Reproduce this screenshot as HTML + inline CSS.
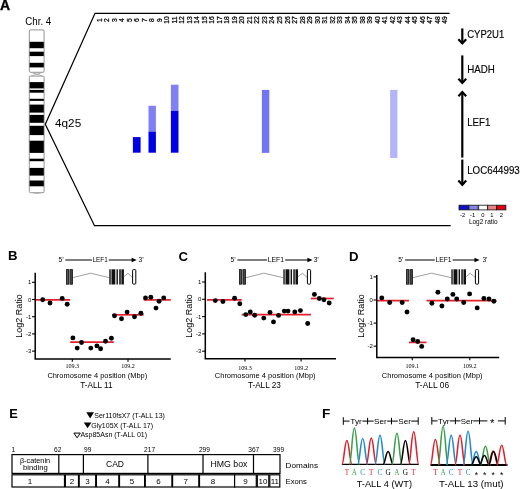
<!DOCTYPE html>
<html><head><meta charset="utf-8"><style>
html,body{margin:0;padding:0;background:#fff;width:520px;height:489px;overflow:hidden}
svg{display:block;will-change:transform}
text{font-family:"Liberation Sans", sans-serif;fill:#000}
</style></head><body>
<svg width="520" height="489" viewBox="0 0 520 489">
<text x="0.10" y="10.00" font-size="14" font-weight="bold" stroke="#000" stroke-width="0.35">A</text>
<text x="25.30" y="24.80" font-size="10.6" textLength="25.90" lengthAdjust="spacingAndGlyphs">Chr. 4</text>
<rect x="29.3" y="29.9" width="14.8" height="42.4" rx="1.1" fill="#fff" stroke="#888" stroke-width="0.9"/>
<rect x="29.3" y="76.1" width="14.8" height="116.6" rx="1.1" fill="#fff" stroke="#888" stroke-width="0.9"/>
<path d="M31.2,72.4 L42.4,76.0 M42.4,72.4 L31.2,76.0" fill="none" stroke="#aaa" stroke-width="1"/>
<path d="M33,193 Q36.7,194 40.6,193" fill="none" stroke="#aaa" stroke-width="0.8"/>
<rect x="29.6" y="41.8" width="14.2" height="6.4" fill="#000"/>
<rect x="29.6" y="51.7" width="14.2" height="4.4" fill="#000"/>
<rect x="29.6" y="62.8" width="14.2" height="4.6" fill="#000"/>
<rect x="29.6" y="82.1" width="14.2" height="6.3" fill="#000"/>
<rect x="29.6" y="89.9" width="14.2" height="2.8" fill="#000"/>
<rect x="29.6" y="98.8" width="14.2" height="2.1" fill="#000"/>
<rect x="29.6" y="104.6" width="14.2" height="8.0" fill="#000"/>
<rect x="29.6" y="114.9" width="14.2" height="7.9" fill="#000"/>
<rect x="29.6" y="125.8" width="14.2" height="9.3" fill="#000"/>
<rect x="29.6" y="140.7" width="14.2" height="12.2" fill="#000"/>
<rect x="29.6" y="158.7" width="14.2" height="2.5" fill="#000"/>
<rect x="29.6" y="167.9" width="14.2" height="7.7" fill="#000"/>
<rect x="29.6" y="180.5" width="14.2" height="5.8" fill="#000"/>
<path d="M449.6,13.3 L95,13.3 L45.3,124.3 L94.5,225.7 L450.7,225.7" fill="none" stroke="#000" stroke-width="1.25"/>
<text x="55.00" y="126.80" font-size="10.8" textLength="26.20" lengthAdjust="spacingAndGlyphs">4q25</text>
<text transform="translate(101.50,20.1) rotate(-90)" text-anchor="middle" font-size="6.7" stroke="#000" stroke-width="0.25">1</text>
<text transform="translate(109.02,20.1) rotate(-90)" text-anchor="middle" font-size="6.7" stroke="#000" stroke-width="0.25">2</text>
<text transform="translate(116.54,20.1) rotate(-90)" text-anchor="middle" font-size="6.7" stroke="#000" stroke-width="0.25">3</text>
<text transform="translate(124.06,20.1) rotate(-90)" text-anchor="middle" font-size="6.7" stroke="#000" stroke-width="0.25">4</text>
<text transform="translate(131.58,20.1) rotate(-90)" text-anchor="middle" font-size="6.7" stroke="#000" stroke-width="0.25">5</text>
<text transform="translate(139.10,20.1) rotate(-90)" text-anchor="middle" font-size="6.7" stroke="#000" stroke-width="0.25">6</text>
<text transform="translate(146.62,20.1) rotate(-90)" text-anchor="middle" font-size="6.7" stroke="#000" stroke-width="0.25">7</text>
<text transform="translate(154.14,20.1) rotate(-90)" text-anchor="middle" font-size="6.7" stroke="#000" stroke-width="0.25">8</text>
<text transform="translate(161.66,20.1) rotate(-90)" text-anchor="middle" font-size="6.7" stroke="#000" stroke-width="0.25">9</text>
<text transform="translate(169.18,20.1) rotate(-90)" text-anchor="middle" font-size="6.7" stroke="#000" stroke-width="0.25">10</text>
<text transform="translate(176.70,20.1) rotate(-90)" text-anchor="middle" font-size="6.7" stroke="#000" stroke-width="0.25">11</text>
<text transform="translate(184.22,20.1) rotate(-90)" text-anchor="middle" font-size="6.7" stroke="#000" stroke-width="0.25">12</text>
<text transform="translate(191.74,20.1) rotate(-90)" text-anchor="middle" font-size="6.7" stroke="#000" stroke-width="0.25">13</text>
<text transform="translate(199.26,20.1) rotate(-90)" text-anchor="middle" font-size="6.7" stroke="#000" stroke-width="0.25">14</text>
<text transform="translate(206.78,20.1) rotate(-90)" text-anchor="middle" font-size="6.7" stroke="#000" stroke-width="0.25">15</text>
<text transform="translate(214.30,20.1) rotate(-90)" text-anchor="middle" font-size="6.7" stroke="#000" stroke-width="0.25">16</text>
<text transform="translate(221.82,20.1) rotate(-90)" text-anchor="middle" font-size="6.7" stroke="#000" stroke-width="0.25">17</text>
<text transform="translate(229.34,20.1) rotate(-90)" text-anchor="middle" font-size="6.7" stroke="#000" stroke-width="0.25">18</text>
<text transform="translate(236.86,20.1) rotate(-90)" text-anchor="middle" font-size="6.7" stroke="#000" stroke-width="0.25">19</text>
<text transform="translate(244.38,20.1) rotate(-90)" text-anchor="middle" font-size="6.7" stroke="#000" stroke-width="0.25">20</text>
<text transform="translate(251.90,20.1) rotate(-90)" text-anchor="middle" font-size="6.7" stroke="#000" stroke-width="0.25">21</text>
<text transform="translate(259.42,20.1) rotate(-90)" text-anchor="middle" font-size="6.7" stroke="#000" stroke-width="0.25">22</text>
<text transform="translate(266.94,20.1) rotate(-90)" text-anchor="middle" font-size="6.7" stroke="#000" stroke-width="0.25">23</text>
<text transform="translate(274.46,20.1) rotate(-90)" text-anchor="middle" font-size="6.7" stroke="#000" stroke-width="0.25">24</text>
<text transform="translate(281.98,20.1) rotate(-90)" text-anchor="middle" font-size="6.7" stroke="#000" stroke-width="0.25">25</text>
<text transform="translate(289.50,20.1) rotate(-90)" text-anchor="middle" font-size="6.7" stroke="#000" stroke-width="0.25">26</text>
<text transform="translate(297.02,20.1) rotate(-90)" text-anchor="middle" font-size="6.7" stroke="#000" stroke-width="0.25">27</text>
<text transform="translate(304.54,20.1) rotate(-90)" text-anchor="middle" font-size="6.7" stroke="#000" stroke-width="0.25">28</text>
<text transform="translate(312.06,20.1) rotate(-90)" text-anchor="middle" font-size="6.7" stroke="#000" stroke-width="0.25">29</text>
<text transform="translate(319.58,20.1) rotate(-90)" text-anchor="middle" font-size="6.7" stroke="#000" stroke-width="0.25">30</text>
<text transform="translate(327.10,20.1) rotate(-90)" text-anchor="middle" font-size="6.7" stroke="#000" stroke-width="0.25">31</text>
<text transform="translate(334.62,20.1) rotate(-90)" text-anchor="middle" font-size="6.7" stroke="#000" stroke-width="0.25">32</text>
<text transform="translate(342.14,20.1) rotate(-90)" text-anchor="middle" font-size="6.7" stroke="#000" stroke-width="0.25">33</text>
<text transform="translate(349.66,20.1) rotate(-90)" text-anchor="middle" font-size="6.7" stroke="#000" stroke-width="0.25">34</text>
<text transform="translate(357.18,20.1) rotate(-90)" text-anchor="middle" font-size="6.7" stroke="#000" stroke-width="0.25">35</text>
<text transform="translate(364.70,20.1) rotate(-90)" text-anchor="middle" font-size="6.7" stroke="#000" stroke-width="0.25">38</text>
<text transform="translate(372.22,20.1) rotate(-90)" text-anchor="middle" font-size="6.7" stroke="#000" stroke-width="0.25">39</text>
<text transform="translate(379.74,20.1) rotate(-90)" text-anchor="middle" font-size="6.7" stroke="#000" stroke-width="0.25">40</text>
<text transform="translate(387.26,20.1) rotate(-90)" text-anchor="middle" font-size="6.7" stroke="#000" stroke-width="0.25">41</text>
<text transform="translate(394.78,20.1) rotate(-90)" text-anchor="middle" font-size="6.7" stroke="#000" stroke-width="0.25">42</text>
<text transform="translate(402.30,20.1) rotate(-90)" text-anchor="middle" font-size="6.7" stroke="#000" stroke-width="0.25">43</text>
<text transform="translate(409.82,20.1) rotate(-90)" text-anchor="middle" font-size="6.7" stroke="#000" stroke-width="0.25">44</text>
<text transform="translate(417.34,20.1) rotate(-90)" text-anchor="middle" font-size="6.7" stroke="#000" stroke-width="0.25">45</text>
<text transform="translate(424.86,20.1) rotate(-90)" text-anchor="middle" font-size="6.7" stroke="#000" stroke-width="0.25">46</text>
<text transform="translate(432.38,20.1) rotate(-90)" text-anchor="middle" font-size="6.7" stroke="#000" stroke-width="0.25">47</text>
<text transform="translate(439.90,20.1) rotate(-90)" text-anchor="middle" font-size="6.7" stroke="#000" stroke-width="0.25">48</text>
<text transform="translate(447.42,20.1) rotate(-90)" text-anchor="middle" font-size="6.7" stroke="#000" stroke-width="0.25">49</text>
<rect x="132.9" y="137.1" width="7.7" height="15.6" fill="#0000e6"/>
<rect x="148.5" y="105.8" width="7.4" height="25.8" fill="#8080f4"/>
<rect x="148.5" y="131.6" width="7.4" height="21.1" fill="#0000e6"/>
<rect x="170.9" y="84.7" width="7.6" height="26.1" fill="#8080f4"/>
<rect x="170.9" y="110.8" width="7.6" height="41.9" fill="#0000e6"/>
<rect x="261.9" y="89.9" width="7.4" height="63" fill="#7474f2"/>
<rect x="390.1" y="89.9" width="7.3" height="68.1" fill="#b4b4f8"/>
<path d="M462.3,28.4 L462.3,43.4" stroke="#000" stroke-width="2.2"/>
<path d="M458.40000000000003,39.199999999999996 L462.3,43.4 L466.2,39.199999999999996" fill="none" stroke="#000" stroke-width="2.2"/>
<path d="M462.3,55.4 L462.3,83" stroke="#000" stroke-width="2.2"/>
<path d="M458.40000000000003,78.8 L462.3,83 L466.2,78.8" fill="none" stroke="#000" stroke-width="2.2"/>
<path d="M462.3,92.1 L462.3,157.6" stroke="#000" stroke-width="2.2"/>
<path d="M458.40000000000003,96.3 L462.3,92.1 L466.2,96.3" fill="none" stroke="#000" stroke-width="2.2"/>
<path d="M462.3,159.6 L462.3,184.8" stroke="#000" stroke-width="2.2"/>
<path d="M458.40000000000003,180.60000000000002 L462.3,184.8 L466.2,180.60000000000002" fill="none" stroke="#000" stroke-width="2.2"/>
<text x="467.20" y="37.90" font-size="10.1" textLength="37.10" lengthAdjust="spacingAndGlyphs" stroke="#000" stroke-width="0.15">CYP2U1</text>
<text x="467.30" y="73.40" font-size="10.1" textLength="27.60" lengthAdjust="spacingAndGlyphs" stroke="#000" stroke-width="0.15">HADH</text>
<text x="467.20" y="126.00" font-size="10.1" textLength="23.10" lengthAdjust="spacingAndGlyphs" stroke="#000" stroke-width="0.15">LEF1</text>
<text x="467.20" y="173.70" font-size="10.1" textLength="52.60" lengthAdjust="spacingAndGlyphs" stroke="#000" stroke-width="0.15">LOC644993</text>
<rect x="459.0" y="205.2" width="9.40" height="4.7" fill="#1010c8" stroke="#111" stroke-width="0.8"/>
<rect x="468.9" y="205.2" width="9.30" height="4.7" fill="#8484e6" stroke="#111" stroke-width="0.8"/>
<rect x="478.7" y="205.2" width="8.70" height="4.7" fill="#ffffff" stroke="#111" stroke-width="0.8"/>
<rect x="487.7" y="205.2" width="8.70" height="4.7" fill="#e48484" stroke="#111" stroke-width="0.8"/>
<rect x="496.7" y="205.2" width="9.20" height="4.7" fill="#e00010" stroke="#111" stroke-width="0.8"/>
<text x="462.60" y="216.80" font-size="5.8" text-anchor="middle">-2</text>
<text x="472.60" y="216.80" font-size="5.8" text-anchor="middle">-1</text>
<text x="482.75" y="216.80" font-size="5.8" text-anchor="middle">0</text>
<text x="491.90" y="216.80" font-size="5.8" text-anchor="middle">1</text>
<text x="501.25" y="216.80" font-size="5.8" text-anchor="middle">2</text>
<text x="468.90" y="224.30" font-size="6.3" textLength="28.70" lengthAdjust="spacingAndGlyphs">Log2 ratio</text>
<text x="8.10" y="260.30" font-size="13.2" font-weight="bold">B</text>
<text x="58.60" y="262.30" font-size="6.6">5’</text>
<path d="M65.40,260 L91.90,260 M108.70,260 L132.70,260" stroke="#000" stroke-width="1.2"/>
<path d="M131.60,257.7 L136.70,260 L131.60,262.3 Z" fill="#000"/>
<text x="92.50" y="262.40" font-size="6.6" textLength="15.20" lengthAdjust="spacingAndGlyphs">LEF1</text>
<text x="138.60" y="262.30" font-size="6.6">3’</text>
<path d="M73.00,277.6 L90.60,273.2 L109.00,277.6 M123.90,276.8 L127.90,273.3 L132.10,277.2" fill="none" stroke="#777" stroke-width="0.7"/>
<rect x="66.40" y="269.6" width="2.2" height="14.6" fill="#555" stroke="#111" stroke-width="0.8"/>
<rect x="69.90" y="269.6" width="2.6" height="14.6" fill="#444" stroke="#111" stroke-width="0.8"/>
<rect x="109.00" y="269.3" width="2.30" height="15.2" fill="#555"/>
<rect x="111.60" y="269.3" width="3.70" height="15.2" fill="#111"/>
<rect x="116.50" y="269.3" width="1.40" height="15.2" fill="#111"/>
<rect x="119.00" y="269.3" width="2.20" height="15.2" fill="#444"/>
<rect x="121.50" y="269.3" width="2.40" height="15.2" fill="#111"/>
<rect x="132.60" y="269.6" width="3.20" height="14.5" rx="0.8" fill="#fff" stroke="#000" stroke-width="1"/>
<path d="M35.2,299.9 L70.2,299.9" stroke="#e6202a" stroke-width="1.7"/>
<path d="M70.2,342.1 L113.8,342.1" stroke="#e6202a" stroke-width="1.7"/>
<path d="M112.3,314.8 L143.7,314.8" stroke="#e6202a" stroke-width="1.7"/>
<path d="M143.7,299.9 L170.8,299.9" stroke="#e6202a" stroke-width="1.7"/>
<circle cx="42.7" cy="299.8" r="2.45" fill="#000"/>
<circle cx="50" cy="303" r="2.45" fill="#000"/>
<circle cx="62.2" cy="298.4" r="2.45" fill="#000"/>
<circle cx="67.2" cy="304.3" r="2.45" fill="#000"/>
<circle cx="72.9" cy="337.9" r="2.45" fill="#000"/>
<circle cx="77.2" cy="348.1" r="2.45" fill="#000"/>
<circle cx="81.5" cy="342.5" r="2.45" fill="#000"/>
<circle cx="90.8" cy="348.1" r="2.45" fill="#000"/>
<circle cx="96.9" cy="345.9" r="2.45" fill="#000"/>
<circle cx="100.6" cy="348.7" r="2.45" fill="#000"/>
<circle cx="105.5" cy="341.3" r="2.45" fill="#000"/>
<circle cx="111.4" cy="338.2" r="2.45" fill="#000"/>
<circle cx="114.5" cy="315.8" r="2.45" fill="#000"/>
<circle cx="121.5" cy="318.8" r="2.45" fill="#000"/>
<circle cx="127.1" cy="312.1" r="2.45" fill="#000"/>
<circle cx="134.5" cy="316.7" r="2.45" fill="#000"/>
<circle cx="140.9" cy="313.3" r="2.45" fill="#000"/>
<circle cx="145.5" cy="297.9" r="2.45" fill="#000"/>
<circle cx="150.8" cy="297.3" r="2.45" fill="#000"/>
<circle cx="156" cy="308.1" r="2.45" fill="#000"/>
<circle cx="159.1" cy="301.3" r="2.45" fill="#000"/>
<circle cx="163.7" cy="297.9" r="2.45" fill="#000"/>
<path d="M35.2,272.8 L35.2,358.9 L170.8,358.9" fill="none" stroke="#000" stroke-width="1.5"/>
<path d="M32.0,282.3 L35.2,282.3" stroke="#000" stroke-width="1.1"/>
<text x="31.30" y="284.40" font-size="6" text-anchor="end">1</text>
<path d="M32.0,299.5 L35.2,299.5" stroke="#000" stroke-width="1.1"/>
<text x="31.30" y="301.60" font-size="6" text-anchor="end">0</text>
<path d="M32.0,316.7 L35.2,316.7" stroke="#000" stroke-width="1.1"/>
<text x="31.30" y="318.80" font-size="6" text-anchor="end">-1</text>
<path d="M32.0,333.9 L35.2,333.9" stroke="#000" stroke-width="1.1"/>
<text x="31.30" y="336.00" font-size="6" text-anchor="end">-2</text>
<path d="M32.0,351.1 L35.2,351.1" stroke="#000" stroke-width="1.1"/>
<text x="31.30" y="353.20" font-size="6" text-anchor="end">-3</text>
<path d="M72.3,358.9 L72.3,361.7" stroke="#000" stroke-width="1.1"/>
<text x="72.30" y="368.30" font-size="6.1" text-anchor="middle" style='font-family:"Liberation Serif", serif'>109.3</text>
<path d="M128.0,358.9 L128.0,361.7" stroke="#000" stroke-width="1.1"/>
<text x="128.00" y="368.30" font-size="6.1" text-anchor="middle" style='font-family:"Liberation Serif", serif'>109.2</text>
<text transform="translate(22.00,316) rotate(-90)" text-anchor="middle" font-size="9">Log2 Ratio</text>
<text x="47.40" y="377.80" font-size="6.9" textLength="99.80" lengthAdjust="spacingAndGlyphs">Chromosome 4 position (Mbp)</text>
<text x="80.20" y="388.40" font-size="8.8" textLength="32.30" lengthAdjust="spacingAndGlyphs">T-ALL 11</text>
<text x="178.50" y="260.80" font-size="13.2" font-weight="bold">C</text>
<text x="230.60" y="262.30" font-size="6.6">5’</text>
<path d="M237.40,260 L267.10,260 M285.10,260 L308.50,260" stroke="#000" stroke-width="1.2"/>
<path d="M307.40,257.7 L312.50,260 L307.40,262.3 Z" fill="#000"/>
<text x="267.70" y="262.40" font-size="6.6" textLength="16.40" lengthAdjust="spacingAndGlyphs">LEF1</text>
<text x="313.70" y="262.30" font-size="6.6">3’</text>
<path d="M246.00,277.6 L263.80,273.2 L283.10,277.6 M298.00,276.8 L302.50,273.3 L306.90,277.2" fill="none" stroke="#777" stroke-width="0.7"/>
<rect x="239.40" y="269.6" width="2.2" height="14.6" fill="#555" stroke="#111" stroke-width="0.8"/>
<rect x="242.90" y="269.6" width="2.6" height="14.6" fill="#444" stroke="#111" stroke-width="0.8"/>
<rect x="283.10" y="269.3" width="2.30" height="15.2" fill="#555"/>
<rect x="285.70" y="269.3" width="3.70" height="15.2" fill="#111"/>
<rect x="290.60" y="269.3" width="1.40" height="15.2" fill="#111"/>
<rect x="293.10" y="269.3" width="2.20" height="15.2" fill="#444"/>
<rect x="295.60" y="269.3" width="2.40" height="15.2" fill="#111"/>
<rect x="307.40" y="269.6" width="3.20" height="14.5" rx="0.8" fill="#fff" stroke="#000" stroke-width="1"/>
<path d="M207,299.8 L241.7,299.8" stroke="#e6202a" stroke-width="1.7"/>
<path d="M241.7,314.6 L310.9,314.6" stroke="#e6202a" stroke-width="1.7"/>
<path d="M310.9,298.5 L333.8,298.5" stroke="#e6202a" stroke-width="1.7"/>
<circle cx="215.3" cy="300.6" r="2.45" fill="#000"/>
<circle cx="222.9" cy="301.5" r="2.45" fill="#000"/>
<circle cx="234.6" cy="298.2" r="2.45" fill="#000"/>
<circle cx="239.8" cy="303.7" r="2.45" fill="#000"/>
<circle cx="245.8" cy="314.6" r="2.45" fill="#000"/>
<circle cx="250.3" cy="311.9" r="2.45" fill="#000"/>
<circle cx="254.7" cy="315.2" r="2.45" fill="#000"/>
<circle cx="263.8" cy="318.1" r="2.45" fill="#000"/>
<circle cx="270" cy="312.5" r="2.45" fill="#000"/>
<circle cx="273.5" cy="321.9" r="2.45" fill="#000"/>
<circle cx="278.6" cy="315.4" r="2.45" fill="#000"/>
<circle cx="284.3" cy="311.1" r="2.45" fill="#000"/>
<circle cx="288" cy="311.1" r="2.45" fill="#000"/>
<circle cx="294.8" cy="311.9" r="2.45" fill="#000"/>
<circle cx="300.4" cy="310.6" r="2.45" fill="#000"/>
<circle cx="307.7" cy="323.5" r="2.45" fill="#000"/>
<circle cx="314.4" cy="294.4" r="2.45" fill="#000"/>
<circle cx="319.3" cy="298.5" r="2.45" fill="#000"/>
<circle cx="323.9" cy="299.8" r="2.45" fill="#000"/>
<circle cx="329.2" cy="303" r="2.45" fill="#000"/>
<path d="M205.3,272.2 L205.3,358.8 L336,358.8" fill="none" stroke="#000" stroke-width="1.5"/>
<path d="M202.10000000000002,282.0 L205.3,282.0" stroke="#000" stroke-width="1.1"/>
<text x="201.40" y="284.10" font-size="6" text-anchor="end">1</text>
<path d="M202.10000000000002,299.3 L205.3,299.3" stroke="#000" stroke-width="1.1"/>
<text x="201.40" y="301.40" font-size="6" text-anchor="end">0</text>
<path d="M202.10000000000002,316.6 L205.3,316.6" stroke="#000" stroke-width="1.1"/>
<text x="201.40" y="318.70" font-size="6" text-anchor="end">-1</text>
<path d="M202.10000000000002,333.90000000000003 L205.3,333.90000000000003" stroke="#000" stroke-width="1.1"/>
<text x="201.40" y="336.00" font-size="6" text-anchor="end">-2</text>
<path d="M202.10000000000002,351.20000000000005 L205.3,351.20000000000005" stroke="#000" stroke-width="1.1"/>
<text x="201.40" y="353.30" font-size="6" text-anchor="end">-3</text>
<path d="M245.0,358.8 L245.0,361.6" stroke="#000" stroke-width="1.1"/>
<text x="245.00" y="369.60" font-size="6.1" text-anchor="middle" style='font-family:"Liberation Serif", serif'>109.3</text>
<path d="M301.1,358.8 L301.1,361.6" stroke="#000" stroke-width="1.1"/>
<text x="301.10" y="369.60" font-size="6.1" text-anchor="middle" style='font-family:"Liberation Serif", serif'>109.2</text>
<text transform="translate(192.10,316) rotate(-90)" text-anchor="middle" font-size="9">Log2 Ratio</text>
<text x="214.80" y="377.80" font-size="6.9" textLength="100.80" lengthAdjust="spacingAndGlyphs">Chromosome 4 position (Mbp)</text>
<text x="247.90" y="388.40" font-size="8.8" textLength="32.90" lengthAdjust="spacingAndGlyphs">T-ALL 23</text>
<text x="349.00" y="260.80" font-size="13.2" font-weight="bold">D</text>
<text x="398.30" y="262.30" font-size="6.6">5’</text>
<path d="M405.10,260 L434.80,260 M452.60,260 L475.60,260" stroke="#000" stroke-width="1.2"/>
<path d="M474.50,257.7 L479.60,260 L474.50,262.3 Z" fill="#000"/>
<text x="435.40" y="262.40" font-size="6.6" textLength="16.20" lengthAdjust="spacingAndGlyphs">LEF1</text>
<text x="482.40" y="262.30" font-size="6.6">3’</text>
<path d="M413.00,277.6 L431.50,273.2 L451.10,277.6 M466.00,276.8 L470.00,273.3 L474.90,277.2" fill="none" stroke="#777" stroke-width="0.7"/>
<rect x="406.40" y="269.6" width="2.2" height="14.6" fill="#555" stroke="#111" stroke-width="0.8"/>
<rect x="409.90" y="269.6" width="2.6" height="14.6" fill="#444" stroke="#111" stroke-width="0.8"/>
<rect x="451.10" y="269.3" width="2.30" height="15.2" fill="#555"/>
<rect x="453.70" y="269.3" width="3.70" height="15.2" fill="#111"/>
<rect x="458.60" y="269.3" width="1.40" height="15.2" fill="#111"/>
<rect x="461.10" y="269.3" width="2.20" height="15.2" fill="#444"/>
<rect x="463.60" y="269.3" width="2.40" height="15.2" fill="#111"/>
<rect x="475.40" y="269.6" width="3.20" height="14.5" rx="0.8" fill="#fff" stroke="#000" stroke-width="1"/>
<path d="M376.8,300.6 L409,300.6" stroke="#e6202a" stroke-width="1.7"/>
<path d="M409,342.4 L426.5,342.4" stroke="#e6202a" stroke-width="1.7"/>
<path d="M426.5,300.6 L496.5,300.6" stroke="#e6202a" stroke-width="1.7"/>
<circle cx="381.8" cy="297.9" r="2.45" fill="#000"/>
<circle cx="389.7" cy="302.5" r="2.45" fill="#000"/>
<circle cx="402.2" cy="302.5" r="2.45" fill="#000"/>
<circle cx="407" cy="312" r="2.45" fill="#000"/>
<circle cx="413.1" cy="339.7" r="2.45" fill="#000"/>
<circle cx="417.7" cy="341.5" r="2.45" fill="#000"/>
<circle cx="421.7" cy="346.4" r="2.45" fill="#000"/>
<circle cx="431.9" cy="303.3" r="2.45" fill="#000"/>
<circle cx="437.9" cy="292.3" r="2.45" fill="#000"/>
<circle cx="441.9" cy="306" r="2.45" fill="#000"/>
<circle cx="447.3" cy="299" r="2.45" fill="#000"/>
<circle cx="452.9" cy="294.4" r="2.45" fill="#000"/>
<circle cx="456.7" cy="299" r="2.45" fill="#000"/>
<circle cx="463.7" cy="302.5" r="2.45" fill="#000"/>
<circle cx="469.6" cy="293.9" r="2.45" fill="#000"/>
<circle cx="477.2" cy="307.9" r="2.45" fill="#000"/>
<circle cx="483.9" cy="298.5" r="2.45" fill="#000"/>
<circle cx="489" cy="299" r="2.45" fill="#000"/>
<circle cx="493.9" cy="301.2" r="2.45" fill="#000"/>
<path d="M376.8,275 L376.8,357.4 L499.2,357.4" fill="none" stroke="#000" stroke-width="1.5"/>
<path d="M373.6,276.9 L376.8,276.9" stroke="#000" stroke-width="1.1"/>
<text x="372.90" y="279.00" font-size="6" text-anchor="end">1</text>
<path d="M373.6,300.0 L376.8,300.0" stroke="#000" stroke-width="1.1"/>
<text x="372.90" y="302.10" font-size="6" text-anchor="end">0</text>
<path d="M373.6,323.1 L376.8,323.1" stroke="#000" stroke-width="1.1"/>
<text x="372.90" y="325.20" font-size="6" text-anchor="end">-1</text>
<path d="M373.6,346.2 L376.8,346.2" stroke="#000" stroke-width="1.1"/>
<text x="372.90" y="348.30" font-size="6" text-anchor="end">-2</text>
<path d="M412.3,357.4 L412.3,360.2" stroke="#000" stroke-width="1.1"/>
<text x="412.30" y="368.00" font-size="6.1" text-anchor="middle" style='font-family:"Liberation Serif", serif'>109.1</text>
<path d="M469.8,357.4 L469.8,360.2" stroke="#000" stroke-width="1.1"/>
<text x="469.80" y="368.00" font-size="6.1" text-anchor="middle" style='font-family:"Liberation Serif", serif'>109.2</text>
<text transform="translate(363.60,316) rotate(-90)" text-anchor="middle" font-size="9">Log2 Ratio</text>
<text x="381.80" y="377.80" font-size="6.9" textLength="100.80" lengthAdjust="spacingAndGlyphs">Chromosome 4 position (Mbp)</text>
<text x="415.20" y="388.40" font-size="8.8" textLength="33.90" lengthAdjust="spacingAndGlyphs">T-ALL 06</text>
<text x="9.20" y="418.00" font-size="12.8" font-weight="bold">E</text>
<path d="M86.3,412.3 L94,412.3 L90.15,418.6 Z" fill="#000"/>
<text x="94.30" y="418.00" font-size="7.6" textLength="70.60" lengthAdjust="spacingAndGlyphs">Ser110fsX7 (T-ALL 13)</text>
<path d="M83.8,422.4 L91.4,422.4 L87.6,428.2 Z" fill="#000"/>
<text x="91.30" y="428.00" font-size="7.6" textLength="61.80" lengthAdjust="spacingAndGlyphs">Gly105X (T-ALL 17)</text>
<path d="M73.9,433.1 L80.3,433.1 L77.1,437.8 Z" fill="none" stroke="#000" stroke-width="1"/>
<text x="80.40" y="437.40" font-size="7.6" textLength="66.60" lengthAdjust="spacingAndGlyphs">Asp85Asn (T-ALL 01)</text>
<text x="13.30" y="451.60" font-size="6.6" text-anchor="middle">1</text>
<text x="57.70" y="451.60" font-size="6.6" text-anchor="middle">62</text>
<text x="87.70" y="451.60" font-size="6.6" text-anchor="middle">99</text>
<text x="149.60" y="451.60" font-size="6.6" text-anchor="middle">217</text>
<text x="204.40" y="451.60" font-size="6.6" text-anchor="middle">299</text>
<text x="253.80" y="451.60" font-size="6.6" text-anchor="middle">367</text>
<text x="278.60" y="451.60" font-size="6.6" text-anchor="middle">399</text>
<rect x="12" y="454.6" width="268" height="18.8" fill="#fff" stroke="#000" stroke-width="1.2"/>
<path d="M58.8,454.6 L58.8,473.4" stroke="#000" stroke-width="1.2"/>
<path d="M83.4,454.6 L83.4,473.4" stroke="#000" stroke-width="1.2"/>
<path d="M147.9,454.6 L147.9,473.4" stroke="#000" stroke-width="1.2"/>
<path d="M203,454.6 L203,473.4" stroke="#000" stroke-width="1.2"/>
<path d="M253.5,454.6 L253.5,473.4" stroke="#000" stroke-width="1.2"/>
<text x="19.90" y="462.80" font-size="7.5" textLength="30.20" lengthAdjust="spacingAndGlyphs">β-catenin</text>
<text x="23.00" y="470.30" font-size="7.5" textLength="24.80" lengthAdjust="spacingAndGlyphs">binding</text>
<text x="106.00" y="466.60" font-size="8.6" textLength="18.00" lengthAdjust="spacingAndGlyphs">CAD</text>
<text x="210.40" y="467.00" font-size="8.6" textLength="37.00" lengthAdjust="spacingAndGlyphs">HMG box</text>
<text x="285.60" y="468.00" font-size="8" textLength="32.40" lengthAdjust="spacingAndGlyphs">Domains</text>
<text x="285.60" y="483.90" font-size="8" textLength="21.20" lengthAdjust="spacingAndGlyphs">Exons</text>
<rect x="12" y="474.8" width="52.5" height="12.2" fill="#fff" stroke="#000" stroke-width="1.2"/>
<rect x="65.4" y="474.8" width="13.1" height="12.2" fill="#fff" stroke="#000" stroke-width="1.2"/>
<rect x="79.2" y="474.8" width="16.5" height="12.2" fill="#fff" stroke="#000" stroke-width="1.2"/>
<rect x="96.4" y="474.8" width="22.4" height="12.2" fill="#fff" stroke="#000" stroke-width="1.2"/>
<rect x="119.5" y="474.8" width="25.1" height="12.2" fill="#fff" stroke="#000" stroke-width="1.2"/>
<rect x="145.3" y="474.8" width="26.6" height="12.2" fill="#fff" stroke="#000" stroke-width="1.2"/>
<rect x="172.6" y="474.8" width="26.2" height="12.2" fill="#fff" stroke="#000" stroke-width="1.2"/>
<rect x="199.5" y="474.8" width="35.1" height="12.2" fill="#fff" stroke="#000" stroke-width="1.2"/>
<rect x="234.6" y="474.8" width="21.7" height="12.2" fill="#fff" stroke="#000" stroke-width="1.2"/>
<rect x="257.3" y="474.8" width="11.5" height="12.2" fill="#fff" stroke="#000" stroke-width="1.2"/>
<rect x="269.8" y="474.8" width="10.0" height="12.2" fill="#fff" stroke="#000" stroke-width="1.2"/>
<text x="29.90" y="483.70" font-size="8" text-anchor="middle">1</text>
<text x="71.95" y="483.70" font-size="8" text-anchor="middle">2</text>
<text x="87.45" y="483.70" font-size="8" text-anchor="middle">3</text>
<text x="107.60" y="483.70" font-size="8" text-anchor="middle">4</text>
<text x="132.05" y="483.70" font-size="8" text-anchor="middle">5</text>
<text x="158.60" y="483.70" font-size="8" text-anchor="middle">6</text>
<text x="185.70" y="483.70" font-size="8" text-anchor="middle">7</text>
<text x="213.10" y="483.70" font-size="8" text-anchor="middle">8</text>
<text x="245.45" y="483.70" font-size="8" text-anchor="middle">9</text>
<text x="263.05" y="483.70" font-size="8" text-anchor="middle">10</text>
<text x="274.80" y="483.70" font-size="8" text-anchor="middle">11</text>
<text x="322.00" y="417.60" font-size="13.6" font-weight="bold">F</text>
<path d="M341.9,464.4 L418.8,464.4" stroke="#000" stroke-width="1.2"/>
<path d="M341.9,464.4 C343.9,464.4 344.7,440.4 346.9,440.4 C349.09999999999997,440.4 349.9,464.4 351.9,464.4" fill="none" stroke="#e0202c" stroke-width="1.55"/>
<path d="M349.4,464.4 C351.4,464.4 352.2,427.9 354.4,427.9 C356.59999999999997,427.9 357.4,464.4 359.4,464.4" fill="none" stroke="#38a048" stroke-width="1.55"/>
<path d="M357.7,464.4 C359.7,464.4 360.5,438.5 362.7,438.5 C364.9,438.5 365.7,464.4 367.7,464.4" fill="none" stroke="#2288d2" stroke-width="1.55"/>
<path d="M366.3,464.4 C368.3,464.4 369.1,438.1 371.3,438.1 C373.5,438.1 374.3,464.4 376.3,464.4" fill="none" stroke="#e0202c" stroke-width="1.55"/>
<path d="M375,464.4 C377,464.4 377.8,435.2 380,435.2 C382.2,435.2 383,464.4 385,464.4" fill="none" stroke="#2288d2" stroke-width="1.55"/>
<path d="M383.1,464.4 C385.1,464.4 385.90000000000003,451.5 388.1,451.5 C390.3,451.5 391.1,464.4 393.1,464.4" fill="none" stroke="#000" stroke-width="1.55"/>
<path d="M391.9,464.4 C393.9,464.4 394.7,433.3 396.9,433.3 C399.09999999999997,433.3 399.9,464.4 401.9,464.4" fill="none" stroke="#38a048" stroke-width="1.55"/>
<path d="M400.4,464.4 C402.4,464.4 403.2,440.4 405.4,440.4 C407.59999999999997,440.4 408.4,464.4 410.4,464.4" fill="none" stroke="#000" stroke-width="1.55"/>
<path d="M408.7,464.4 C410.7,464.4 411.5,431.7 413.7,431.7 C415.9,431.7 416.7,464.4 418.7,464.4" fill="none" stroke="#e0202c" stroke-width="1.55"/>
<text x="346.90" y="475.20" font-size="7.2" text-anchor="middle" style='font-family:"Liberation Serif", serif;fill:#e0202c'>T</text>
<text x="354.40" y="475.20" font-size="7.2" text-anchor="middle" style='font-family:"Liberation Serif", serif;fill:#38a048'>A</text>
<text x="362.70" y="475.20" font-size="7.2" text-anchor="middle" style='font-family:"Liberation Serif", serif;fill:#2288d2'>C</text>
<text x="371.30" y="475.20" font-size="7.2" text-anchor="middle" style='font-family:"Liberation Serif", serif;fill:#e0202c'>T</text>
<text x="380.00" y="475.20" font-size="7.2" text-anchor="middle" style='font-family:"Liberation Serif", serif;fill:#2288d2'>C</text>
<text x="388.10" y="475.20" font-size="7.2" text-anchor="middle" style='font-family:"Liberation Serif", serif;fill:#000'>G</text>
<text x="396.90" y="475.20" font-size="7.2" text-anchor="middle" style='font-family:"Liberation Serif", serif;fill:#38a048'>A</text>
<text x="405.40" y="475.20" font-size="7.2" text-anchor="middle" style='font-family:"Liberation Serif", serif;fill:#000'>G</text>
<text x="413.70" y="475.20" font-size="7.2" text-anchor="middle" style='font-family:"Liberation Serif", serif;fill:#e0202c'>T</text>
<path d="M343.3,417.2 L343.3,424.8 M343.3,421.1 L349.6,421.1 M362.4,421.1 L373.6,421.1 M367.6,417.8 L367.6,424.4 M387.2,421.1 L397.8,421.1 M391.5,417.8 L391.5,424.4 M411.2,421.1 L418.2,421.1 M418.2,417.2 L418.2,424.8" fill="none" stroke="#000" stroke-width="1"/>
<text x="350.30" y="423.90" font-size="7.8" textLength="11.60" lengthAdjust="spacingAndGlyphs">Tyr</text>
<text x="374.10" y="423.90" font-size="7.8" textLength="12.70" lengthAdjust="spacingAndGlyphs">Ser</text>
<text x="398.30" y="423.90" font-size="7.8" textLength="12.70" lengthAdjust="spacingAndGlyphs">Ser</text>
<text x="356.70" y="486.90" font-size="8.8" textLength="55.30" lengthAdjust="spacingAndGlyphs">T-ALL 4 (WT)</text>
<path d="M430.6,465 L507.5,465" stroke="#000" stroke-width="1.8"/>
<path d="M430.4,465 C432.4,465 433.2,439.4 435.4,439.4 C437.59999999999997,439.4 438.4,465 440.4,465" fill="none" stroke="#e0202c" stroke-width="1.55"/>
<path d="M438.1,465 C440.1,465 440.90000000000003,426.5 443.1,426.5 C445.3,426.5 446.1,465 448.1,465" fill="none" stroke="#38a048" stroke-width="1.55"/>
<path d="M446.2,465 C448.2,465 449.0,435.2 451.2,435.2 C453.4,435.2 454.2,465 456.2,465" fill="none" stroke="#2288d2" stroke-width="1.55"/>
<path d="M455,465 C457,465 457.8,435.2 460,435.2 C462.2,435.2 463,465 465,465" fill="none" stroke="#e0202c" stroke-width="1.55"/>
<path d="M463.1,465 C465.1,465 465.90000000000003,431.2 468.1,431.2 C470.3,431.2 471.1,465 473.1,465" fill="none" stroke="#2288d2" stroke-width="1.55"/>
<path d="M471.2,465 C473.2,465 474.0,451.5 476.2,451.5 C478.4,451.5 479.2,465 481.2,465" fill="none" stroke="#2288d2" stroke-width="1.55"/>
<path d="M471.2,465 C473.2,465 474.0,456.7 476.2,456.7 C478.4,456.7 479.2,465 481.2,465" fill="none" stroke="#000" stroke-width="1.55"/>
<path d="M480.4,465 C482.4,465 483.2,446.2 485.4,446.2 C487.59999999999997,446.2 488.4,465 490.4,465" fill="none" stroke="#38a048" stroke-width="1.55"/>
<path d="M479.4,465 C481.4,465 482.2,455.4 484.4,455.4 C486.59999999999997,455.4 487.4,465 489.4,465" fill="none" stroke="#000" stroke-width="1.55"/>
<path d="M488.1,465 C490.1,465 490.90000000000003,451 493.1,451 C495.3,451 496.1,465 498.1,465" fill="none" stroke="#e0202c" stroke-width="1.55"/>
<path d="M488.6,465 C490.6,465 491.40000000000003,451.5 493.6,451.5 C495.8,451.5 496.6,465 498.6,465" fill="none" stroke="#000" stroke-width="1.55"/>
<path d="M496.7,465 C498.7,465 499.5,445.2 501.7,445.2 C503.9,445.2 504.7,465 506.7,465" fill="none" stroke="#e0202c" stroke-width="1.55"/>
<text x="435.40" y="474.80" font-size="7.2" text-anchor="middle" style='font-family:"Liberation Serif", serif;fill:#e0202c'>T</text>
<text x="443.10" y="474.80" font-size="7.2" text-anchor="middle" style='font-family:"Liberation Serif", serif;fill:#38a048'>A</text>
<text x="451.20" y="474.80" font-size="7.2" text-anchor="middle" style='font-family:"Liberation Serif", serif;fill:#2288d2'>C</text>
<text x="460.00" y="474.80" font-size="7.2" text-anchor="middle" style='font-family:"Liberation Serif", serif;fill:#e0202c'>T</text>
<text x="468.10" y="474.80" font-size="7.2" text-anchor="middle" style='font-family:"Liberation Serif", serif;fill:#2288d2'>C</text>
<text x="476.40" y="477.60" font-size="8.6" text-anchor="middle" style='font-family:"Liberation Sans", sans-serif'>*</text>
<text x="484.80" y="477.60" font-size="8.6" text-anchor="middle" style='font-family:"Liberation Sans", sans-serif'>*</text>
<text x="493.30" y="477.60" font-size="8.6" text-anchor="middle" style='font-family:"Liberation Sans", sans-serif'>*</text>
<text x="501.70" y="477.60" font-size="8.6" text-anchor="middle" style='font-family:"Liberation Sans", sans-serif'>*</text>
<path d="M431.8,417 L431.8,424.6 M431.8,420.9 L437.6,420.9 M449.8,420.9 L460.4,420.9 M455.4,417.6 L455.4,424.2 M473.2,420.9 L487.4,420.9 M479.5,417.6 L479.5,424.2 M497.8,420.9 L505.2,420.9 M505.2,417 L505.2,424.6" fill="none" stroke="#000" stroke-width="1"/>
<text x="438.10" y="423.70" font-size="7.8" textLength="11.40" lengthAdjust="spacingAndGlyphs">Tyr</text>
<text x="460.80" y="423.70" font-size="7.8" textLength="12.20" lengthAdjust="spacingAndGlyphs">Ser</text>
<text x="492.30" y="427.20" font-size="11.5" text-anchor="middle">*</text>
<text x="439.00" y="487.00" font-size="8.8" textLength="64.60" lengthAdjust="spacingAndGlyphs">T-ALL 13 (mut)</text>
</svg>
</body></html>
